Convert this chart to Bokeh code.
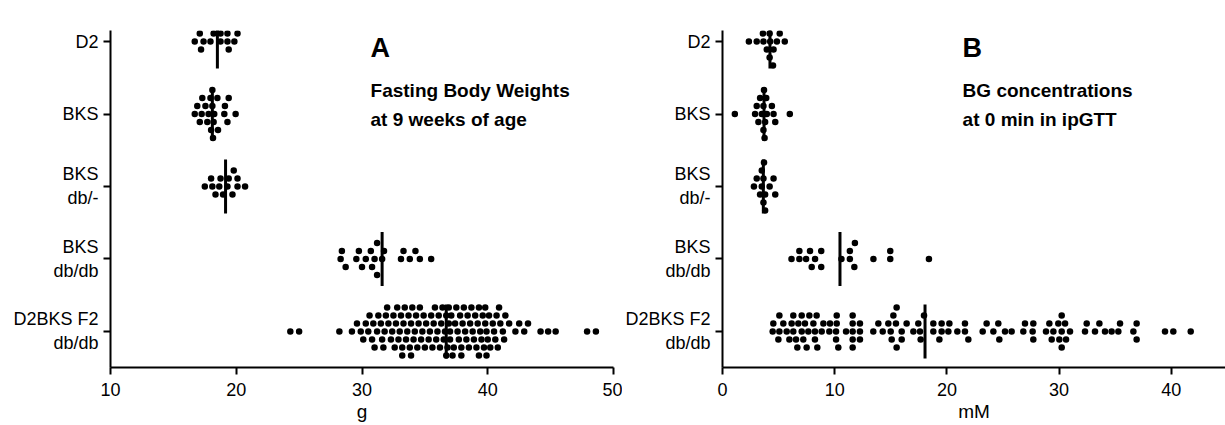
from bokeh.plotting import figure
from bokeh.layouts import row
from bokeh.models import FixedTicker, Label, Range1d, ColumnDataSource
from bokeh.embed import file_html
from bokeh.resources import INLINE

# ---------------- data ----------------
categories = ["D2", "BKS", "BKS\ndb/-", "BKS\ndb/db", "D2BKS F2\ndb/db"]
cat_pos = [5, 4, 3, 2, 1]

# Panel A: fasting body weight (g)
wt_D2 = [16.7, 17.1, 17.2, 17.4, 17.6, 17.95, 18.2, 18.75, 18.75, 19.3, 19.3, 19.4, 19.5, 19.85, 20.1]
wt_BKS = [16.7, 16.9, 17.1, 17.25, 17.3, 17.55, 17.7, 17.8, 17.95, 18.0, 18.1, 18.1, 18.15, 18.2,
          18.25, 18.5, 18.55, 19.05, 19.1, 19.3, 19.4, 19.95]
wt_BKS_het = [17.5, 18.0, 18.1, 18.35, 18.65, 18.75, 18.95, 19.3, 19.4, 19.7, 19.8, 20.1, 20.1, 20.7]
wt_BKS_dbdb = [28.3, 28.4, 28.7, 29.55, 29.75, 30.0, 30.3, 30.7, 30.8, 31.0, 31.2, 31.2, 31.6, 31.75,
               33.1, 33.3, 33.8, 34.25, 34.6, 35.5]
wt_F2 = [24.3, 25.0, 28.2,
         29.2, 29.6, 29.9,
         30.1, 30.3, 30.5, 30.6, 30.8, 30.9,
         31.0, 31.2, 31.3, 31.5, 31.6, 31.7, 31.8, 31.9,
         32.0, 32.1, 32.3, 32.4, 32.5, 32.6, 32.7, 32.8, 32.9,
         33.0, 33.1, 33.2, 33.2, 33.3, 33.4, 33.5, 33.6, 33.7, 33.8, 33.9, 33.9,
         34.0, 34.1, 34.2, 34.3, 34.4, 34.5, 34.6, 34.7, 34.8, 34.9,
         35.0, 35.1, 35.3, 35.4, 35.5, 35.6, 35.7, 35.8, 35.9,
         36.0, 36.1, 36.2, 36.3, 36.4, 36.5, 36.6, 36.7, 36.7, 36.8, 36.9, 36.9,
         37.0, 37.0, 37.1, 37.2, 37.3, 37.4, 37.5, 37.6, 37.7, 37.8, 37.9, 37.9,
         38.0, 38.1, 38.2, 38.3, 38.4, 38.5, 38.6, 38.7, 38.8, 38.9,
         39.0, 39.1, 39.2, 39.3, 39.3, 39.4, 39.5, 39.6, 39.7, 39.8, 39.8, 39.9, 39.9,
         40.0, 40.1, 40.2, 40.4, 40.5, 40.6, 40.7, 40.8, 40.9,
         41.0, 41.2, 41.3, 41.4, 41.7,
         42.2, 42.5, 42.9, 43.2, 44.2, 44.8, 45.4, 47.9, 48.6]
wt_center = [18.5, 18.1, 19.15, 31.6, 36.7]

# Panel B: blood glucose at 0 min (mM)
bg_D2 = [2.35, 3.05, 3.6, 3.65, 3.95, 4.1, 4.2, 4.2, 4.25, 4.4, 4.5, 4.55, 4.7, 4.85, 5.1, 5.55]
bg_BKS = [1.1, 2.9, 3.05, 3.2, 3.35, 3.5, 3.65, 3.65, 3.7, 3.75, 3.8, 3.9, 3.95, 4.4, 4.55, 4.7, 6.0]
bg_BKS_het = [2.8, 3.05, 3.35, 3.5, 3.5, 3.65, 3.65, 3.7, 3.8, 3.8, 4.2, 4.55, 4.7]
bg_BKS_dbdb = [6.15, 6.85, 6.85, 7.45, 7.8, 7.95, 8.25, 8.8, 8.8, 10.6, 11.35, 11.35, 11.75, 11.8,
               13.45, 14.95, 14.95, 18.4]
bg_F2 = [4.47, 4.53, 4.98, 5.07, 5.07, 5.42, 5.72, 5.96, 6.16, 6.31, 6.31, 6.55, 6.67, 6.76, 7.06,
         7.06, 7.2, 7.35, 7.5, 7.65, 7.74, 8.1, 8.24, 8.24, 8.39, 8.45, 8.84, 8.99, 9.52, 9.58,
         10.12, 10.12, 10.18, 10.18, 10.32, 11.01, 11.6, 11.6, 11.6, 11.6, 11.6, 12.25, 12.25, 12.25,
         13.44, 13.89, 14.28, 14.78, 14.99, 15.08, 15.23, 15.46, 15.52, 15.52, 15.97, 15.97, 16.41,
         17.01, 17.45, 17.6, 17.66, 17.96, 18.79, 18.79, 19.33, 19.53, 19.53, 20.13, 20.22, 20.93,
         21.61, 21.61, 21.91, 23.19, 23.54, 24.14, 24.58, 24.67, 25.18, 25.77, 26.81, 26.96, 27.64,
         27.7, 27.7, 28.83, 29.13, 29.34, 29.49, 29.93, 30.02, 30.23, 30.23, 30.23, 30.53, 30.62,
         30.97, 32.31, 32.46, 33.2, 33.59, 34.09, 34.68, 35.28, 35.43, 36.62, 36.91, 36.91, 39.44,
         40.18, 41.73]
bg_center = [4.23, 3.70, 3.64, 10.47, 18.05]

FONT = "Liberation Sans"
PX = 1.0 / 72.5   # one screen pixel in category units
ROW_H = 8 * PX    # vertical step between stacked dots
HALF_LINE = 27 * PX
NBSP = "\u00a0"

# approximate Arial/Liberation Sans advance widths (em) for right-justifying 2-line labels
ADV = {"D": .722, "B": .667, "K": .667, "S": .667, "F": .611, "2": .556, " ": .278,
       "d": .556, "b": .556, "/": .278, "-": .333}


def right_justify(label):
    lines = label.split("\n")
    if len(lines) == 1:
        return label
    widths = [sum(ADV.get(ch, .556) for ch in ln) for ln in lines]
    wmax = max(widths)
    out = []
    for ln, w in zip(lines, widths):
        n = int(round((wmax - w) / .278))
        out.append(NBSP * n + ln)
    return "\n".join(out)


def swarm(vals, dmin, max_row=3):
    """Deterministic dot-plot stacking: put each value in the nearest free row."""
    order = [0]
    for k in range(1, max_row + 1):
        order += [-k, k]
    placed = []
    rows = []
    for v in sorted(vals):
        best, best_d, best_r = None, -1.0, 0
        for r in order:
            ds = [abs(v - x) for x, rr in placed if rr == r]
            d = min(ds) if ds else 1e9
            if d >= dmin:
                best = r
                break
            if d > best_d:
                best_d, best_r = d, r
        if best is None:
            best = best_r
        placed.append((v, best))
        rows.append(best)
    return sorted(vals), rows


def bold_label(p, x, y, text, size):
    p.add_layout(Label(x=x, y=y, text=text, text_font=FONT, text_font_size=size,
                       text_font_style="bold", text_baseline="alphabetic", text_color="black"))


def make_panel(groups, centers, xr, ticks, xlabel, width, border_left, px_per_unit,
               letter, line1, line2, text_x):
    p = figure(width=width, height=425, x_range=Range1d(*xr), y_range=Range1d(0.503, 5.152),
               output_backend="svg", toolbar_location=None,
               min_border_left=border_left, min_border_right=width - border_left - 503,
               min_border_top=30, min_border_bottom=58)
    p.outline_line_color = None
    p.grid.visible = False
    p.background_fill_color = "white"
    p.border_fill_color = "white"

    xs, ys = [], []
    dmin = 6.5 / px_per_unit
    for vals, cy in zip(groups, cat_pos):
        sv, rows = swarm(vals, dmin)
        xs += sv
        ys += [cy - r * ROW_H for r in rows]
    src = ColumnDataSource(data=dict(x=xs, y=ys))
    p.scatter("x", "y", source=src, size=6.5, color="black", line_width=0)

    p.segment(x0=centers, x1=centers, y0=[c - HALF_LINE for c in cat_pos],
              y1=[c + HALF_LINE for c in cat_pos], line_color="black", line_width=3)

    for ax in (p.xaxis[0], p.yaxis[0]):
        ax.axis_line_width = 2
        ax.major_tick_line_width = 2
        ax.major_tick_in = 0
        ax.major_tick_out = 7
        ax.minor_tick_line_color = None
        ax.major_label_text_font = FONT
        ax.major_label_text_font_size = "18px"
        ax.major_label_text_color = "black"
        ax.axis_line_color = "black"
        ax.major_tick_line_color = "black"

    p.xaxis.ticker = FixedTicker(ticks=ticks)
    p.xaxis.major_label_standoff = 8
    p.xaxis.axis_label = xlabel
    p.xaxis.axis_label_text_font = FONT
    p.xaxis.axis_label_text_font_size = "19px"
    p.xaxis.axis_label_text_font_style = "normal"
    p.xaxis.axis_label_text_color = "black"
    p.xaxis.axis_label_standoff = 2

    p.yaxis.ticker = FixedTicker(ticks=cat_pos)
    p.yaxis.major_label_overrides = {c: right_justify(lab) for c, lab in zip(cat_pos, categories)}
    p.yaxis.major_label_standoff = 5

    bold_label(p, text_x, 5 - 6 * PX, letter, "27px")
    bold_label(p, text_x, 5 - 49 * PX, line1, "19px")
    bold_label(p, text_x, 5 - 78 * PX, line2, "19px")
    return p


pA = make_panel([wt_D2, wt_BKS, wt_BKS_het, wt_BKS_dbdb, wt_F2], wt_center, (10, 50),
                [10, 20, 30, 40, 50], "g", 622, 110, 12.575,
                "A", "Fasting Body Weights", "at 9 weeks of age", 30.68)
pB = make_panel([bg_D2, bg_BKS, bg_BKS_het, bg_BKS_dbdb, bg_F2], bg_center, (0, 44.83),
                [0, 10, 20, 30, 40], "mM", 603, 100, 11.22,
                "B", "BG concentrations", "at 0 min in ipGTT", 21.4)

layout = row(pA, pB)
open("out.html", "w").write(file_html(layout, INLINE))
